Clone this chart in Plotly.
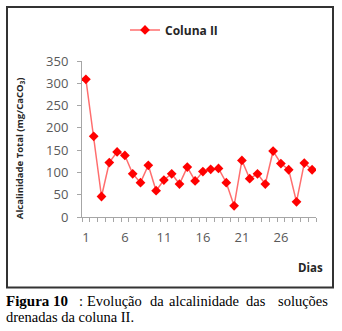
import plotly.graph_objects as go

days = list(range(1, 31))
alcalinidade = [309, 181, 46, 122, 146, 138, 97, 77, 116, 59,
                83, 97, 74, 112, 81, 102, 107, 109, 77, 25,
                127, 86, 97, 74, 148, 120, 106, 34, 121, 106]
x_label_vals = [1, 6, 11, 16, 21, 26]
x_tick_marks = [d - 0.5 for d in days] + [days[-1] + 0.5]
y_tick_vals = [0, 50, 100, 150, 200, 250, 300, 350]

W, H = 342, 331
L, R, T, B = 82, 26, 61, 114.3
PW = W - L - R
PH = H - T - B


def px(x):
    return (x - L) / PW


def py(y):
    return (H - B - y) / PH


fig = go.Figure()
fig.add_trace(go.Scatter(
    x=days, y=alcalinidade, mode="lines+markers", name="Coluna II",
    line=dict(color="rgb(255,110,110)", width=1.5),
    marker=dict(symbol="diamond", size=7.5, color="#FF0000",
                line=dict(width=0)),
))
# invisible trace to activate the tick-mark axis
fig.add_trace(go.Scatter(x=[days[0]], y=[0], xaxis="x2", mode="markers",
                         marker=dict(opacity=0), showlegend=False,
                         hoverinfo="skip"))

tick_font = dict(family="Open Sans, sans-serif", size=13, color="#595959")

fig.update_layout(
    width=W, height=H,
    margin=dict(l=L, r=R, t=T, b=B, pad=0),
    paper_bgcolor="white", plot_bgcolor="white",
    showlegend=True,
    legend=dict(orientation="h", x=px(125), y=py(30), xanchor="left",
                yanchor="middle", bgcolor="rgba(0,0,0,0)",
                font=dict(family="Open Sans, sans-serif", size=12,
                          color="#262626", weight="bold")),
    xaxis=dict(range=[0.5, 30.5], showgrid=False, zeroline=False,
               showline=True, linecolor="#A6A6A6", linewidth=1,
               tickmode="array", tickvals=x_label_vals,
               ticktext=[str(v) for v in x_label_vals],
               ticks="", ticklabelstandoff=8,
               tickfont=tick_font, fixedrange=True),
    xaxis2=dict(range=[0.5, 30.5], overlaying="x", anchor="y", side="bottom",
                showgrid=False, zeroline=False, showline=False,
                tickmode="array", tickvals=x_tick_marks,
                showticklabels=False, ticks="outside", ticklen=4,
                tickcolor="#A6A6A6", fixedrange=True),
    yaxis=dict(range=[0, 350], showgrid=False, zeroline=False,
               showline=True, linecolor="#A6A6A6", linewidth=1,
               tickmode="array", tickvals=y_tick_vals,
               ticks="outside", ticklen=4, tickcolor="#A6A6A6",
               ticklabelstandoff=6,
               tickfont=tick_font, fixedrange=True),
)

# Outer frame
fig.add_shape(type="rect", xref="paper", yref="paper",
              x0=px(7), x1=px(333), y0=py(287), y1=py(7),
              line=dict(color="#333333", width=2))

# Y axis title
fig.add_annotation(text="Alcalinidade Total (mg/CaCO<sub>3</sub>)",
                   xref="paper", yref="paper", x=px(20), y=py(148),
                   xanchor="center", yanchor="middle", textangle=-90,
                   showarrow=False,
                   font=dict(family="Open Sans, sans-serif", size=9.5,
                             color="#262626", weight="bold"))

# X axis title
fig.add_annotation(text="Dias", xref="paper", yref="paper",
                   x=px(325), y=py(267), xanchor="right", yanchor="middle",
                   showarrow=False,
                   font=dict(family="Open Sans, sans-serif", size=11.5,
                             color="#262626", weight="bold"))

# Caption (justified first line, words placed by their centres)
cap_font = dict(family="Liberation Serif, Times New Roman, serif", size=14.5,
                color="black")
fig.add_annotation(text="<b>Figura 10</b>", xref="paper", yref="paper",
                   x=px(4), y=py(300.5), xanchor="left", yanchor="middle",
                   showarrow=False, font=dict(cap_font, size=15))
words1 = [(":", 81), ("Evolução", 114), ("da", 156.5),
          ("alcalinidade", 203.5), ("das", 256), ("soluções", 302.5)]
for w, xc in words1:
    fig.add_annotation(text=w, xref="paper", yref="paper", x=px(xc),
                       y=py(300.5), xanchor="center", yanchor="middle",
                       showarrow=False, font=cap_font)
fig.add_annotation(text="drenadas da coluna II.", xref="paper", yref="paper",
                   x=px(4), y=py(317), xanchor="left", yanchor="middle",
                   showarrow=False, font=cap_font)

fig.write_html("out.html", config={"displayModeBar": False},
               post_script="document.body.style.margin='0px';"
                           "document.body.style.overflow='hidden';")
